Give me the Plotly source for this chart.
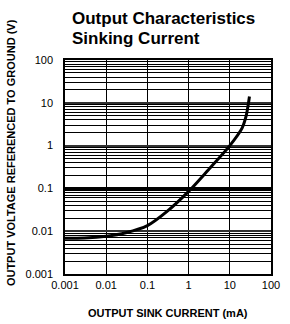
import plotly.graph_objects as go

# Data
current_ma = [0.001, 0.003, 0.01, 0.03, 0.1, 0.3, 1, 3, 10, 20, 25, 28, 30]
voltage_v = [0.0068, 0.0069, 0.0076, 0.0092, 0.0135, 0.029, 0.085, 0.27, 1.0, 2.6, 5.0, 9.0, 14.0]

x_ticks = [0.001, 0.01, 0.1, 1, 10, 100]
x_tick_labels = ["0.001", "0.01", "0.1", "1", "10", "100"]
y_ticks = [0.001, 0.01, 0.1, 1, 10, 100]
y_tick_labels = ["0.001", "0.01", "0.1", "1", "10", "100"]
ref_line_v = 0.1

title_line1 = "Output Characteristics"
title_line2 = "Sinking Current"
x_title = "OUTPUT SINK CURRENT (mA)"
y_title = "OUTPUT VOLTAGE REFERENCED TO GROUND (V)"

fig = go.Figure()
fig.add_trace(go.Scatter(
    x=current_ma, y=voltage_v, mode="lines",
    line=dict(color="black", width=3, shape="spline", smoothing=0.8),
    showlegend=False, hoverinfo="skip",
))

# Heavy reference line at 0.1 V
fig.add_trace(go.Scatter(
    x=[x_ticks[0], x_ticks[-1]], y=[ref_line_v, ref_line_v], mode="lines",
    line=dict(color="black", width=3), showlegend=False, hoverinfo="skip",
))

font_family = "Liberation Sans, Arial, sans-serif"

fig.update_xaxes(
    type="log", range=[-3, 2],
    tickvals=x_ticks, ticktext=x_tick_labels,
    showgrid=True, gridcolor="black", gridwidth=1,
    showline=True, linecolor="black", linewidth=1.5, mirror=True,
    ticks="", zeroline=False,
    tickfont=dict(family=font_family, size=11, color="black"),
    minor=dict(showgrid=False),
)
fig.update_yaxes(
    type="log", range=[-3, 2],
    tickvals=y_ticks, ticktext=y_tick_labels,
    showgrid=True, gridcolor="#333333", gridwidth=2,
    showline=True, linecolor="black", linewidth=1.5, mirror=True,
    ticks="", zeroline=False,
    tickfont=dict(family=font_family, size=11, color="black"),
    ticklabelstandoff=8,
    minor=dict(showgrid=True, gridcolor="black", gridwidth=1, dtick="D1"),
)

fig.update_layout(
    width=290, height=324,
    margin=dict(l=65, r=10, t=60, b=50),
    paper_bgcolor="white", plot_bgcolor="white",
    annotations=[
        dict(text="<b>" + title_line1 + "</b>", xref="paper", yref="paper",
             x=0.023, y=1.195, xanchor="left", yanchor="middle", showarrow=False,
             font=dict(family=font_family, size=17, color="black")),
        dict(text="<b>" + title_line2 + "</b>", xref="paper", yref="paper",
             x=0.023, y=1.100, xanchor="left", yanchor="middle", showarrow=False,
             font=dict(family=font_family, size=17, color="black")),
        dict(text="<b>" + x_title + "</b>", xref="paper", yref="paper",
             x=0.5, y=-0.182, xanchor="center", yanchor="middle", showarrow=False,
             font=dict(family=font_family, size=11, color="black")),
        dict(text="<b>" + y_title + "</b>", xref="paper", yref="paper",
             x=-0.262, y=0.565, xanchor="center", yanchor="middle", showarrow=False,
             textangle=-90,
             font=dict(family=font_family, size=11, color="black")),
    ],
)

fig.write_html("out.html", config={"displayModeBar": False},
               post_script="document.body.style.margin='0';")
